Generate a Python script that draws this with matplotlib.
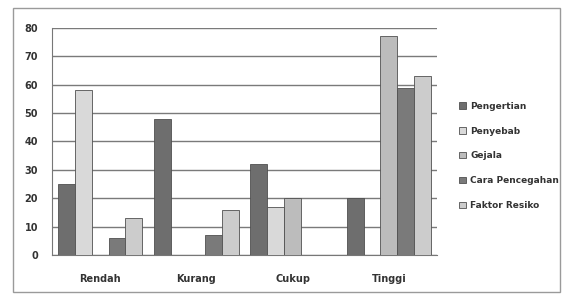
#!/usr/bin/env python3

import numpy as np
import matplotlib.pyplot as plt
from matplotlib.patches import Rectangle

plt.rcParams.update({'font.size': 7, 'font.weight': 'bold'})

categories = ['Rendah', 'Kurang', 'Cukup', 'Tinggi']
series = ['Pengertian', 'Penyebab', 'Gejala', 'Cara Pencegahan', 'Faktor Resiko']
pengertian = [25, 48, 32, 20]
penyebab = [58, 0, 17, 0]
gejala = [0, 0, 20, 77]
cara = [6, 7, 0, 59]
faktor = [13, 16, 0, 63]
values = [pengertian, penyebab, gejala, cara, faktor]
colors = ['#6e6e6e', '#d9d9d9', '#bcbcbc', '#7a7a7a', '#cccccc']
yticks = np.arange(0, 90, 10)

fig = plt.figure(figsize=(5.64, 2.94), dpi=100)
ax = fig.add_axes([0.092, 0.133, 0.683, 0.772])

# chart border like the scanned excel chart
fig.patches.append(Rectangle((0.023, 0.007), 0.97, 0.966, transform=fig.transFigure,
                             fill=False, edgecolor='#9a9a9a', linewidth=1.0))

x = np.arange(len(categories))
n = len(series)
w = 0.88 / n
for i, (vals, name) in enumerate(zip(values, series)):
    ax.bar(x + (i - (n - 1) / 2) * w, vals, width=w, color=colors[i],
           edgecolor='#505050', linewidth=0.6, label=name, zorder=3)

ax.set_xlim(-0.5, len(categories) - 0.5)
ax.set_ylim(0, 80)
ax.set_yticks(yticks)
ax.set_xticks(x)
ax.set_xticklabels(categories)
ax.tick_params(axis='both', length=0, colors='#333333')
ax.tick_params(axis='y', pad=10)
ax.tick_params(axis='x', pad=14)
ax.grid(axis='y', color='#7a7a7a', linewidth=1.0, zorder=0)

for side in ['top', 'right']:
    ax.spines[side].set_visible(False)
ax.spines['left'].set_color('#777777')
ax.spines['bottom'].set_color('#777777')

leg = fig.legend(loc='center left', bbox_to_anchor=(0.8, 0.47), frameon=False,
                 handlelength=0.7, handleheight=0.7, handletextpad=0.5,
                 labelspacing=1.75, fontsize=6.5)
for t in leg.get_texts():
    t.set_color('#333333')

plt.savefig('out.png', dpi=100)
plt.close()
